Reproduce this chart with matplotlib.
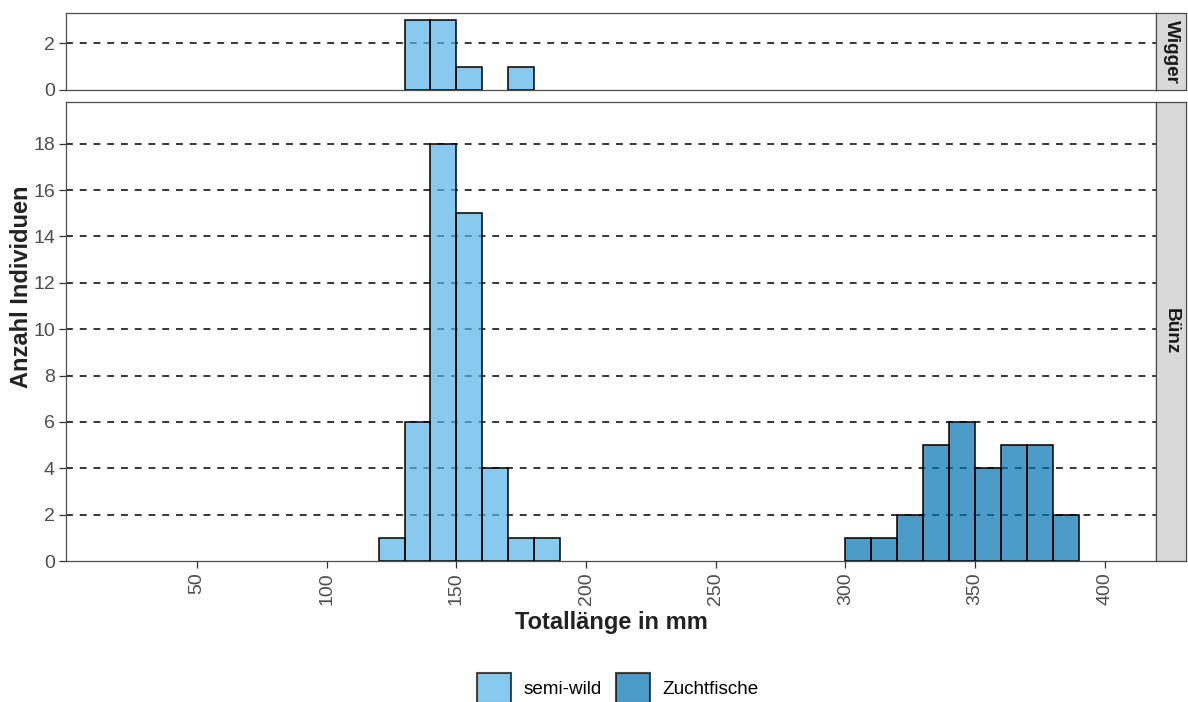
import numpy as np
import matplotlib
matplotlib.use("Agg")
import matplotlib.pyplot as plt
from matplotlib.patches import Patch

plt.rcParams['font.family'] = ['Liberation Sans', 'DejaVu Sans']

# data: histogram bins of 10 mm (left edges) and counts
bin_width = 10
wigger_semi_left = [130, 140, 150, 170]
wigger_semi_count = [3, 3, 1, 1]
buenz_semi_left = [120, 130, 140, 150, 160, 170, 180]
buenz_semi_count = [1, 6, 18, 15, 4, 1, 1]
buenz_zucht_left = [300, 310, 320, 330, 340, 350, 360, 370, 380]
buenz_zucht_count = [1, 1, 2, 5, 6, 4, 5, 5, 2]

groups = ['semi-wild', 'Zuchtfische']
colors = {'semi-wild': '#56B4E9', 'Zuchtfische': '#0072B2'}
facets = ['Wigger', 'Bünz']
x_ticks = [50, 100, 150, 200, 250, 300, 350, 400]

W, H = 1188, 702
fig = plt.figure(figsize=(W / 100, H / 100), dpi=100)

def px_axes(l, t, r, b):
    return fig.add_axes([l / W, 1 - b / H, (r - l) / W, (b - t) / H])

ax_w = px_axes(66, 13, 1156, 90)
ax_b = px_axes(66, 102, 1156, 561)

panel_data = {
    ax_w: [(wigger_semi_left, wigger_semi_count, 'semi-wild')],
    ax_b: [(buenz_semi_left, buenz_semi_count, 'semi-wild'),
           (buenz_zucht_left, buenz_zucht_count, 'Zuchtfische')],
}
ylims = {ax_w: (0, 3.3), ax_b: (0, 19.8)}
yticks = {ax_w: [0, 2], ax_b: list(range(0, 19, 2))}

for ax, series in panel_data.items():
    for left, cnt, grp in series:
        ax.bar(left, cnt, width=bin_width, align='edge', color=colors[grp],
               alpha=0.7, linewidth=0, zorder=3)
        # edges fully opaque on top of the translucent fill
        ax.bar(left, cnt, width=bin_width, align='edge', fill=False,
               edgecolor='black', linewidth=1.1, zorder=4)
    ax.set_xlim(-0.5, 419.7)
    ax.set_ylim(*ylims[ax])
    ax.set_yticks(yticks[ax])
    ax.set_xticks(x_ticks)
    for y in yticks[ax]:
        if y > 0:
            ax.axhline(y, color='black', lw=1.1, ls=(0, (4.5, 4.5)), zorder=1)
    for sp in ax.spines.values():
        sp.set_color('#4D4D4D')
        sp.set_linewidth(0.9)
        sp.set_zorder(5)
    ax.tick_params(axis='both', color='#333333', length=5, width=0.9,
                   labelsize=14, labelcolor='#4D4D4D', pad=3)

ax_w.tick_params(axis='x', bottom=False, labelbottom=False)
ax_b.set_xticklabels([str(t) for t in x_ticks], rotation=90)

# facet strips on the right
for name, (t, b) in zip(facets, [(13, 90), (102, 561)]):
    sax = px_axes(1156, t, 1186, b)
    sax.set_facecolor('#D9D9D9')
    sax.set_xticks([])
    sax.set_yticks([])
    for sp in sax.spines.values():
        sp.set_color('#4D4D4D')
        sp.set_linewidth(0.9)
    sax.text(0.5, 0.5, name, rotation=270, ha='center', va='center',
             fontsize=13.7, fontweight='bold', color='#1A1A1A',
             transform=sax.transAxes)

fig.text(611 / W, 1 - 623 / H, 'Totallänge in mm', ha='center', va='center',
         fontsize=17, fontweight='bold', color='#222222')
fig.text(22 / W, 1 - 287 / H, 'Anzahl Individuen', ha='center', va='center',
         rotation=90, fontsize=17, fontweight='bold', color='#222222')

handles = [Patch(facecolor=colors[g], alpha=0.7, edgecolor='black', linewidth=1.5)
           for g in groups]
leg = fig.legend(handles, groups, loc='center', ncol=2,
                 bbox_to_anchor=(618 / W, 1 - 688 / H), frameon=False,
                 fontsize=13.6, handlelength=1.8, handleheight=2.0,
                 handletextpad=0.65, columnspacing=0.75)
for p in leg.get_patches():
    p.set_edgecolor('black')

fig.savefig('out.png', dpi=100)
